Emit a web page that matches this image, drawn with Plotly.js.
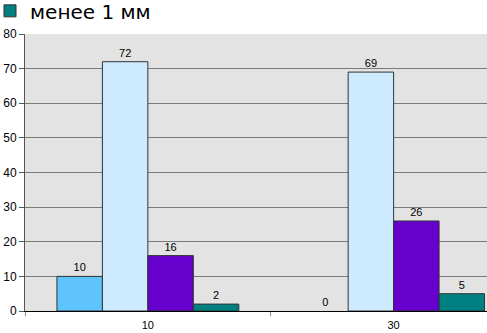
<!DOCTYPE html>
<html><head><meta charset="utf-8">
<script src="https://cdn.plot.ly/plotly-3.0.1.min.js"></script>
<style>html,body{margin:0;padding:0;background:#fff;}#chart{width:487px;height:333px;}</style>
</head><body><div id="chart"></div>
<script>
const categories = ["10", "30"];
const seriesNames = ["серия 1", "серия 2", "серия 3", "менее 1 мм"];
const series1 = [10, 0];
const series2 = [72, 69];
const series3 = [16, 26];
const series4 = [2, 5];
const yTicks = [0, 10, 20, 30, 40, 50, 60, 70, 80];

const colors = ["#5ec4fb", "#cdeaff", "#6600cc", "#008080"];
const allSeries = [series1, series2, series3, series4];
const traces = allSeries.map((vals, i) => ({
  type: "bar",
  x: categories,
  y: vals,
  name: seriesNames[i],
  showlegend: i === 3,
  text: vals.map(String),
  textposition: "outside",
  textfont: {family: "Arial, Liberation Sans, sans-serif", size: 11, color: "#000"},
  marker: {color: colors[i], line: {color: "#333", width: vals.map(v => v === 0 ? 0 : 1)}},
  cliponaxis: false
}));

const layout = {
  width: 487, height: 333,
  margin: {l: 25, r: 0, t: 34, b: 22, autoexpand: false},
  paper_bgcolor: "#fff",
  plot_bgcolor: "#e3e3e3",
  barmode: "group",
  bargap: 0.26,
  bargroupgap: 0,
  font: {family: "Arial, Liberation Sans, sans-serif", color: "#000"},
  showlegend: true,
  legend: {x: -0.0541, y: 1.154, xanchor: "left", yanchor: "top",
    indentation: -10,
    font: {family: "DejaVu Sans, sans-serif", size: 20, color: "#000"}, bgcolor: "rgba(0,0,0,0)", borderwidth: 0},
  xaxis: {type: "category", range: [-0.5, 1.38], showline: true, linecolor: "#000", linewidth: 1,
    ticks: "outside", tickson: "boundaries", ticklen: 4, tickcolor: "#888",
    ticklabelstandoff: 4,
    tickfont: {size: 11, color: "#000"}, showgrid: false, zeroline: false},
  yaxis: {range: [0, 80], tickvals: yTicks, showline: true, linecolor: "#555", linewidth: 1,
    ticks: "outside", ticklen: 5, tickcolor: "#555", gridcolor: "#7a7a7a", gridwidth: 1,
    tickfont: {size: 12, color: "#000"}, zeroline: false}
};
Plotly.newPlot("chart", traces, layout, {displayModeBar: false, staticPlot: true});
</script></body></html>
